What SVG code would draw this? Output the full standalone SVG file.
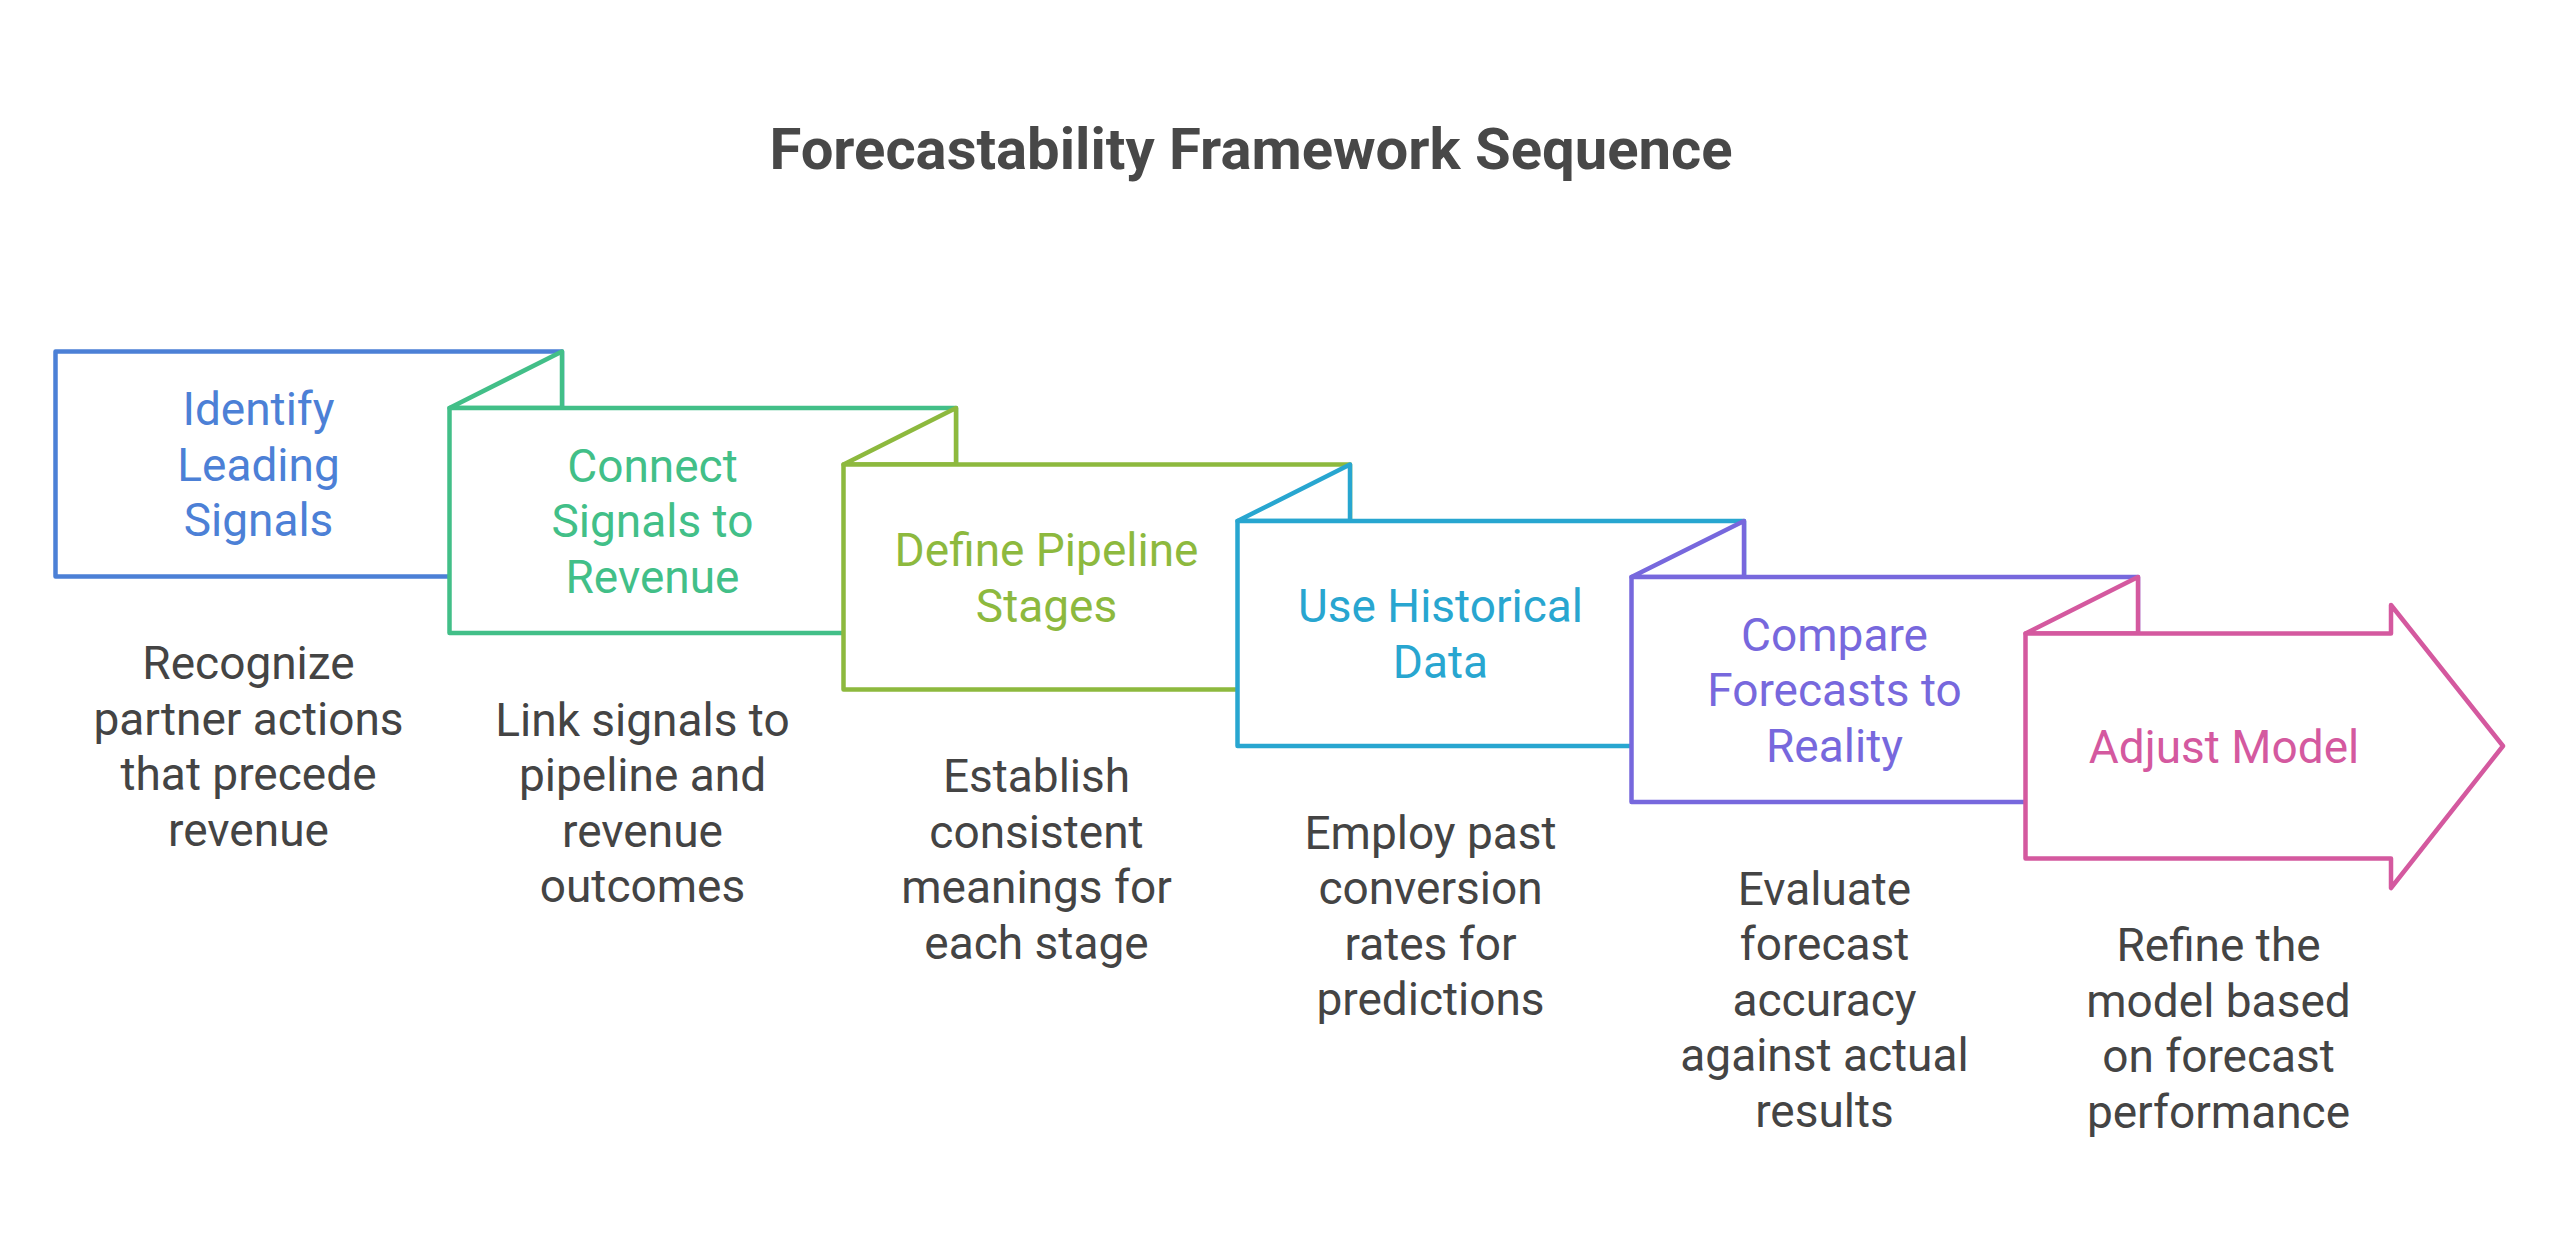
<svg xmlns="http://www.w3.org/2000/svg" width="2560" height="1252" viewBox="0 0 2560 1252">
<style>
.box{fill:#ffffff;stroke-width:4.5;stroke-linejoin:round}
.lbl{font-family:Roboto,"Liberation Sans",sans-serif;font-size:46px;text-anchor:middle}
.desc{font-family:Roboto,"Liberation Sans",sans-serif;font-size:46px;text-anchor:middle;fill:#444444}
.title{font-family:Roboto,"Liberation Sans",sans-serif;font-size:58px;font-weight:bold;text-anchor:middle;fill:#484848}
.c1{stroke:#4C80D6}.t1{fill:#4C80D6}
.c2{stroke:#42BF88}.t2{fill:#42BF88}
.c3{stroke:#8DB93E}.t3{fill:#8DB93E}
.c4{stroke:#28A6D0}.t4{fill:#28A6D0}
.c5{stroke:#7768DD}.t5{fill:#7768DD}
.c6{stroke:#D4599F}.t6{fill:#D4599F}
</style>
<rect width="2560" height="1252" fill="#ffffff"/>
<text class="title" x="1251" y="169">Forecastability Framework Sequence</text>
<g id="connectors"></g>
<g id="node1">
<rect class="box c1" x="55.5" y="351.5" width="506.5" height="225"/>
<text class="lbl t1"><tspan x="258.5" y="425">Identify</tspan><tspan x="258.5" y="480.5">Leading</tspan><tspan x="258.5" y="536">Signals</tspan></text>
<text class="desc"><tspan x="248.5" y="679">Recognize</tspan><tspan x="248.5" y="734.5">partner actions</tspan><tspan x="248.5" y="790">that precede</tspan><tspan x="248.5" y="845.5">revenue</tspan></text>
</g>
<g id="node2">
<path class="box c2" d="M449.5 408 L562 351.5 L562 408 Z"/>
<rect class="box c2" x="449.5" y="408" width="506.5" height="225"/>
<text class="lbl t2"><tspan x="652.5" y="481.5">Connect</tspan><tspan x="652.5" y="537">Signals to</tspan><tspan x="652.5" y="592.5">Revenue</tspan></text>
<text class="desc"><tspan x="642.5" y="735.5">Link signals to</tspan><tspan x="642.5" y="791">pipeline and</tspan><tspan x="642.5" y="846.5">revenue</tspan><tspan x="642.5" y="902">outcomes</tspan></text>
</g>
<g id="node3">
<path class="box c3" d="M843.5 464.5 L956 408 L956 464.5 Z"/>
<rect class="box c3" x="843.5" y="464.5" width="506.5" height="225"/>
<text class="lbl t3"><tspan x="1046.5" y="566">Define Pipeline</tspan><tspan x="1046.5" y="621.5">Stages</tspan></text>
<text class="desc"><tspan x="1036.5" y="792">Establish</tspan><tspan x="1036.5" y="847.5">consistent</tspan><tspan x="1036.5" y="903">meanings for</tspan><tspan x="1036.5" y="958.5">each stage</tspan></text>
</g>
<g id="node4">
<path class="box c4" d="M1237.5 521 L1350 464.5 L1350 521 Z"/>
<rect class="box c4" x="1237.5" y="521" width="506.5" height="225"/>
<text class="lbl t4"><tspan x="1440.5" y="622">Use Historical</tspan><tspan x="1440.5" y="677.5">Data</tspan></text>
<text class="desc"><tspan x="1430.5" y="848.5">Employ past</tspan><tspan x="1430.5" y="904">conversion</tspan><tspan x="1430.5" y="959.5">rates for</tspan><tspan x="1430.5" y="1015">predictions</tspan></text>
</g>
<g id="node5">
<path class="box c5" d="M1631.5 577 L1744 521 L1744 577 Z"/>
<rect class="box c5" x="1631.5" y="577" width="506.5" height="225"/>
<text class="lbl t5"><tspan x="1834.5" y="650.5">Compare</tspan><tspan x="1834.5" y="706">Forecasts to</tspan><tspan x="1834.5" y="761.5">Reality</tspan></text>
<text class="desc"><tspan x="1824.5" y="904.5">Evaluate</tspan><tspan x="1824.5" y="960">forecast</tspan><tspan x="1824.5" y="1015.5">accuracy</tspan><tspan x="1824.5" y="1071">against actual</tspan><tspan x="1824.5" y="1126.5">results</tspan></text>
</g>
<g id="node6">
<path class="box c6" d="M2025.5 633.5 L2138 577 L2138 633.5 Z"/>
<path class="box c6" d="M2025.5 633.5 L2391 633.5 L2391 605 L2503 746 L2391 888 L2391 858.5 L2025.5 858.5 Z"/>
<text class="lbl t6"><tspan x="2224" y="762.5">Adjust Model</tspan></text>
<text class="desc"><tspan x="2218.5" y="961">Refine the</tspan><tspan x="2218.5" y="1016.5">model based</tspan><tspan x="2218.5" y="1072">on forecast</tspan><tspan x="2218.5" y="1127.5">performance</tspan></text>
</g>
</svg>
